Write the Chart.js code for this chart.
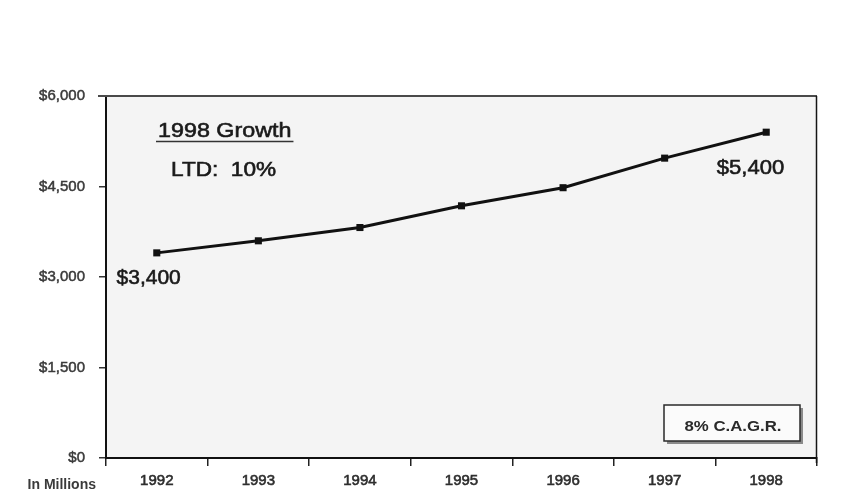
<!DOCTYPE html>
<html>
<head>
<meta charset="utf-8">
<script src="https://cdn.jsdelivr.net/npm/chart.js@4/dist/chart.umd.min.js"></script>
<style>
  html, body { margin: 0; padding: 0; background: #ffffff; }
  #wrap { width: 841px; height: 504px; position: relative; }
  canvas { display: block; }
</style>
</head>
<body>
<div id="wrap"><canvas id="c" width="841" height="504"></canvas></div>
<script>
// Revenue, in millions of dollars
const years = ['1992', '1993', '1994', '1995', '1996', '1997', '1998'];
const revenue = [3400, 3600, 3820, 4180, 4480, 4970, 5400];
const yTicks = [0, 1500, 3000, 4500, 6000];

const growthTitle = '1998 Growth';
const growthLine = 'LTD:  10%';
const cagrText = '8% C.A.G.R.';
const unitsText = 'In Millions';

const FONT = '"Liberation Sans", Arial, Helvetica, sans-serif';
const money = v => '$' + Number(v).toLocaleString('en-US');

// text with an optional horizontal stretch and a light outline for weight
function drawText(ctx, text, x, y, font, align, sx, color, stroke) {
  ctx.save();
  ctx.font = font;
  ctx.fillStyle = color || '#1a1a1a';
  ctx.textBaseline = 'alphabetic';
  ctx.textAlign = align;
  ctx.translate(x, y);
  ctx.scale(sx, 1);
  ctx.fillText(text, 0, 0);
  if (stroke) {
    ctx.strokeStyle = color || '#1a1a1a';
    ctx.lineWidth = stroke;
    ctx.strokeText(text, 0, 0);
  }
  const w = ctx.measureText(text).width * sx;
  ctx.restore();
  return w;
}

const framePlugin = {
  id: 'frame',
  beforeDraw(chart) {
    const { ctx, chartArea: a } = chart;
    ctx.save();
    ctx.fillStyle = '#f4f4f4';
    ctx.fillRect(a.left, a.top, a.right - a.left, a.bottom - a.top);
    ctx.restore();
  },
  afterDraw(chart) {
    const { ctx, chartArea: a } = chart;
    ctx.save();
    // top and right edges of the plot frame
    ctx.strokeStyle = '#4a4a4a';
    ctx.lineWidth = 2;
    ctx.beginPath();
    ctx.moveTo(a.left - 8, a.top);
    ctx.lineTo(a.right, a.top);
    ctx.stroke();
    ctx.strokeStyle = '#151515';
    ctx.lineWidth = 1.5;
    ctx.beginPath();
    ctx.moveTo(a.right - 0.5, a.top);
    ctx.lineTo(a.right - 0.5, a.bottom + 5);
    ctx.stroke();

    // growth note, top left
    const tw = drawText(ctx, growthTitle, 158, 137, '21px ' + FONT, 'left', 1.11, '#1a1a1a', 0.6);
    ctx.strokeStyle = '#333';
    ctx.lineWidth = 1.5;
    ctx.beginPath();
    ctx.moveTo(156, 141.5);
    ctx.lineTo(158 + tw + 2, 141.5);
    ctx.stroke();
    drawText(ctx, growthLine, 171, 176, '20px ' + FONT, 'left', 1.13, '#1a1a1a', 0.6);

    // C.A.G.R. box with drop shadow
    const bx = 664, by = 405, bw = 136, bh = 36;
    ctx.fillStyle = '#8a8a8a';
    ctx.fillRect(bx + 3, by + 3, bw, bh);
    ctx.fillStyle = '#fbfbfb';
    ctx.fillRect(bx, by, bw, bh);
    ctx.strokeStyle = '#2a2a2a';
    ctx.lineWidth = 1.5;
    ctx.strokeRect(bx, by, bw, bh);
    drawText(ctx, cagrText, bx + bw / 2 + 1, 431, 'bold 15px ' + FONT, 'center', 1.12, '#2a2a2a');

    // units caption under the value axis
    drawText(ctx, unitsText, 96, 489, 'bold 14px ' + FONT, 'right', 1.0, '#3a3a3a');
    ctx.restore();
  },
  afterDatasetsDraw(chart) {
    const { ctx } = chart;
    const pts = chart.getDatasetMeta(0).data;
    const vals = chart.data.datasets[0].data;
    const first = pts[0], last = pts[pts.length - 1];
    drawText(ctx, money(vals[0]), first.x + 24, first.y + 31, '21px ' + FONT, 'right', 1.0, '#1a1a1a', 0.6);
    drawText(ctx, money(vals[vals.length - 1]), last.x + 18, last.y + 42, '21px ' + FONT, 'right', 1.05, '#1a1a1a', 0.6);
  }
};

new Chart(document.getElementById('c'), {
  type: 'line',
  data: {
    labels: years,
    datasets: [{
      data: revenue,
      borderColor: '#111111',
      borderWidth: 3,
      tension: 0,
      pointStyle: 'rect',
      pointRadius: 5,
      pointBackgroundColor: '#111111',
      pointBorderWidth: 0,
      fill: false
    }]
  },
  options: {
    responsive: false,
    devicePixelRatio: 1,
    animation: false,
    events: [],
    layout: { autoPadding: false, padding: { left: 0, top: 96, right: 24, bottom: 0 } },
    plugins: { legend: { display: false }, tooltip: { enabled: false }, title: { display: false } },
    scales: {
      x: {
        type: 'category',
        offset: true,
        afterFit(s) { s.height = 46; },
        grid: { offset: true, drawOnChartArea: false, drawTicks: true, tickLength: 8, color: '#222', lineWidth: 1.5 },
        border: { display: true, color: '#111', width: 2 },
        ticks: {
          color: '#2e2e2e', font: { family: FONT, size: 15 }, padding: 6, maxRotation: 0, autoSkip: false,
          textStrokeColor: '#2e2e2e', textStrokeWidth: 0.6
        }
      },
      y: {
        min: 0,
        max: 6000,
        afterFit(s) { s.width = 106; },
        afterBuildTicks(s) { s.ticks = yTicks.map(v => ({ value: v })); },
        grid: { drawOnChartArea: false, drawTicks: true, tickLength: 7, color: '#333', lineWidth: 1.5 },
        border: { display: true, color: '#111', width: 2 },
        ticks: {
          color: '#3a3a3a', font: { family: FONT, size: 15 }, padding: 14, callback: v => money(v),
          textStrokeColor: '#3a3a3a', textStrokeWidth: 0.5
        }
      }
    }
  },
  plugins: [framePlugin]
});
</script>
</body>
</html>
